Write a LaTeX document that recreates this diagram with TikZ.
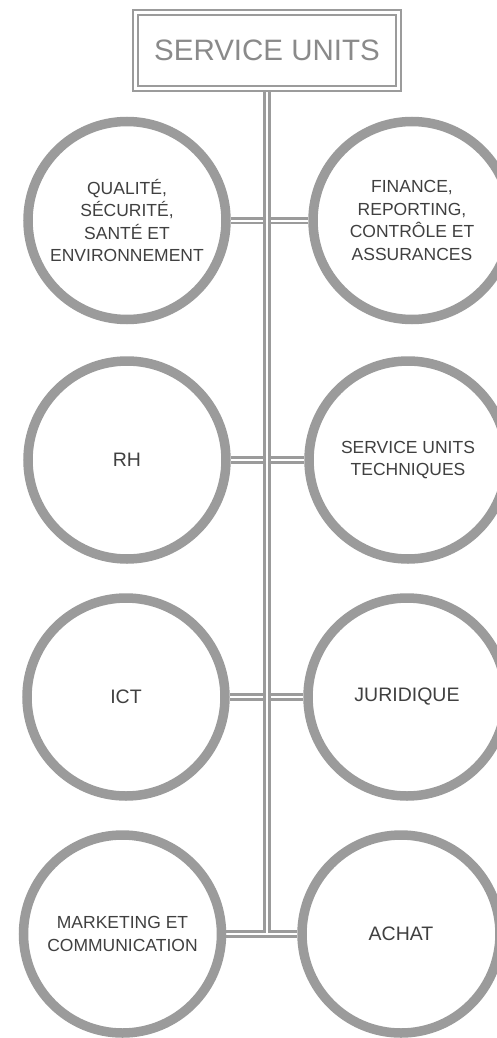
\documentclass[tikz,border=0pt]{standalone}
\usepackage{fontspec}
\setmainfont{Liberation Sans}
\usetikzlibrary{backgrounds}

\definecolor{ringgray}{HTML}{9B9B9B}
\definecolor{labelgray}{HTML}{404040}
\definecolor{headgray}{HTML}{8A8A8A}

\tikzset{
  unit/.style={circle, draw=ringgray, line width=9.5pt, fill=white,
    minimum size=198pt, inner sep=0pt, align=center, text=labelgray,
    font={\fontsize{17.5}{22.5}\selectfont}},
  unit big/.style={font={\fontsize{19.5}{24}\selectfont}},
  head/.style={rectangle, draw=ringgray, double=white, double distance=3pt,
    line width=2pt, fill=white, minimum width=263pt, minimum height=76pt,
    inner sep=0pt, text=headgray, font={\fontsize{29.5}{36}\selectfont}},
  link/.style={draw=ringgray, double=white, double distance=2pt, line width=2.6pt}
}

\begin{document}
\begin{tikzpicture}[x=1pt, y=-1pt]
  \useasboundingbox (0,0) rectangle (497,1038);
  \clip (0,0) rectangle (497,1038);

  \node [head] (head) at (267,50.5) {SERVICE UNITS};

  % left column
  \node [unit] (left-1) at (127,220.5) {QUALITÉ,\\SÉCURITÉ,\\SANTÉ ET\\ENVIRONNEMENT};
  \node [unit, unit big] (left-2) at (127,460) {RH};
  \node [unit, unit big] (left-3) at (126,697) {ICT};
  \node [unit] (left-4) at (122.5,934) {MARKETING ET\\COMMUNICATION};

  % right column
  \node [unit] (right-1) at (412,220.5) {FINANCE,\\REPORTING,\\CONTRÔLE ET\\ASSURANCES};
  \node [unit] (right-2) at (408,460) {SERVICE UNITS\\TECHNIQUES};
  \node [unit, unit big] (right-3) at (407,697) {JURIDIQUE};
  \node [unit, unit big] (right-4) at (401,934) {ACHAT};

  \coordinate (trunk-end) at (267,933);

  \begin{scope}[on background layer]
    \foreach \i in {1,...,4}
      \draw [link] (left-\i) -- (right-\i);
    \draw [link] (head.south) -- (trunk-end);
  \end{scope}
\end{tikzpicture}
\end{document}
